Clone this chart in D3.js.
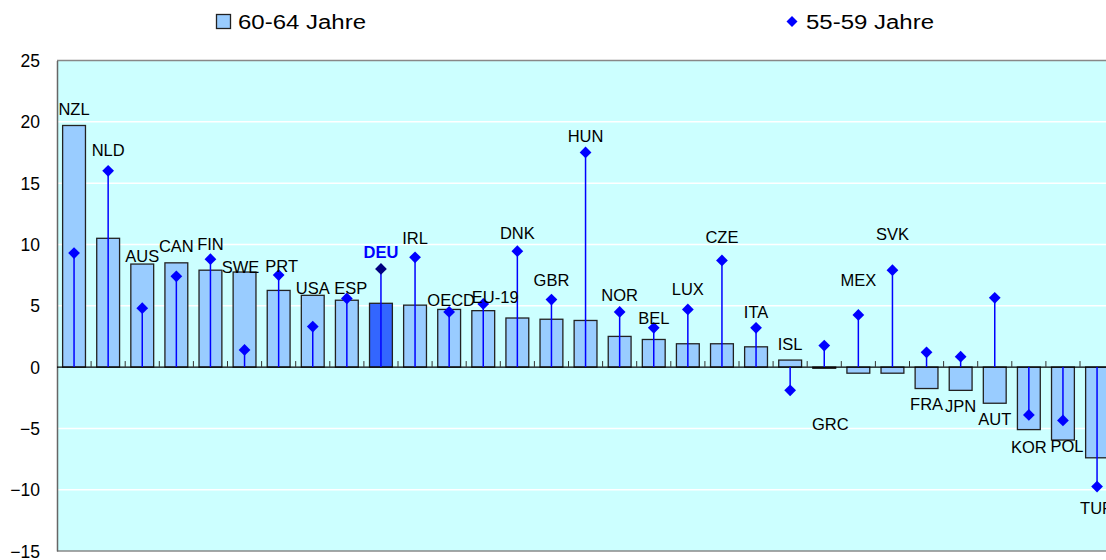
<!DOCTYPE html>
<html lang="de">
<head>
<meta charset="utf-8">
<title>60-64 / 55-59 Jahre</title>
<script src="https://cdn.jsdelivr.net/npm/d3@7"></script>
<style>
  body { margin: 0; background: #fff; }
  text { font-family: Arial, "Liberation Sans", sans-serif; fill: #000; }
  .yaxis text { font-size: 17.5px; }
  .lbl { font-size: 16.5px; }
</style>
</head>
<body>
<script>
// categories (left to right)
var countries = ["NZL","NLD","AUS","CAN","FIN","SWE","PRT","USA","ESP","DEU","IRL","OECD","EU-19",
  "DNK","GBR","HUN","NOR","BEL","LUX","CZE","ITA","ISL","GRC","MEX","SVK","FRA","JPN","AUT","KOR","POL","TUR"];

// bars: 60-64 Jahre
var age6064 = [19.7,10.5,8.4,8.5,7.9,7.75,6.25,5.85,5.45,5.2,5.05,4.7,4.6,
  4.0,3.9,3.8,2.5,2.25,1.9,1.9,1.65,0.57,-0.1,-0.5,-0.5,-1.75,-1.9,-2.95,-5.1,-5.95,-7.4];

// diamonds: 55-59 Jahre
var age5559 = [9.3,16.0,4.8,7.4,8.8,1.4,7.5,3.3,5.6,8.0,8.95,4.5,5.15,
  9.45,5.5,17.5,4.5,3.2,4.7,8.7,3.2,-1.9,1.75,4.25,7.9,1.2,0.85,5.65,-3.9,-4.35,-9.75];

// value at which each country label sits
var labelAt = [21.0,17.7,9.05,9.85,10.0,8.15,8.25,6.45,6.45,9.4,10.5,5.45,5.7,
  10.9,7.1,18.85,5.85,4.0,6.35,10.6,4.5,1.9,-4.65,7.1,10.85,-3.0,-3.2,-4.25,-6.5,-6.45,-11.5];

var yTicks = [-15,-10,-5,0,5,10,15,20,25];
var legendNames = ["60-64 Jahre", "55-59 Jahre"];
var highlight = "DEU";

var w = 1106, h = 560;
var padLeft = 57, padTop = 60.5, padBottom = 551;
var step = 34.1;

var svg = d3.select("body").append("svg")
  .attr("width", w).attr("height", h);

var x = d3.scaleBand()
  .domain(countries)
  .range([padLeft, padLeft + countries.length * step])
  .paddingInner(0.33)
  .paddingOuter(0.165);

var y = d3.scaleLinear()
  .domain([-15, 25])
  .range([padBottom, padTop]);

// plot background
svg.append("rect")
  .attr("x", padLeft).attr("y", y(25))
  .attr("width", w - padLeft + 20).attr("height", y(-15) - y(25))
  .attr("fill", "#ccffff");

// gridlines
svg.selectAll("line.grid")
  .data(yTicks.filter(function(d) { return d != 0 && d != 25 && d != -15; }))
  .enter().append("line")
  .attr("class", "grid")
  .attr("x1", padLeft).attr("x2", w)
  .attr("y1", function(d) { return y(d); })
  .attr("y2", function(d) { return y(d); })
  .attr("stroke", "#fff").attr("stroke-width", 1.5);

// frame top / bottom
[25, -15].forEach(function(v) {
  svg.append("line")
    .attr("x1", padLeft).attr("x2", w)
    .attr("y1", y(v)).attr("y2", y(v))
    .attr("stroke", "#888").attr("stroke-width", 1.5);
});

// y axis
var yAxis = d3.axisLeft(y).tickValues(yTicks).tickSize(0).tickPadding(17);
var ga = svg.append("g")
  .attr("class", "yaxis")
  .attr("transform", "translate(" + padLeft + ",0)")
  .call(yAxis);
ga.select(".domain").attr("stroke", "#666").attr("stroke-width", 1.5);
ga.selectAll("text").attr("dy", "0.35em");

// bars
svg.selectAll("rect.bar")
  .data(countries)
  .enter().append("rect")
  .attr("class", "bar")
  .attr("x", function(d) { return x(d); })
  .attr("width", x.bandwidth())
  .attr("y", function(d, i) { return y(Math.max(0, age6064[i])); })
  .attr("height", function(d, i) { return Math.abs(y(age6064[i]) - y(0)); })
  .attr("fill", function(d) { return d == highlight ? "#3366ff" : "#99ccff"; })
  .attr("stroke", "#222")
  .attr("stroke-width", 1.3);

// zero line with category ticks
svg.append("line")
  .attr("x1", padLeft).attr("x2", w)
  .attr("y1", y(0)).attr("y2", y(0))
  .attr("stroke", "#000").attr("stroke-width", 1.3);

svg.selectAll("line.ctick")
  .data(countries.slice(1))
  .enter().append("line")
  .attr("class", "ctick")
  .attr("x1", function(d) { return x(d) - x.step() * x.paddingInner() / 2; })
  .attr("x2", function(d) { return x(d) - x.step() * x.paddingInner() / 2; })
  .attr("y1", y(0) - 6).attr("y2", y(0))
  .attr("stroke", "#333").attr("stroke-width", 1);

// stems
svg.selectAll("line.stem")
  .data(countries)
  .enter().append("line")
  .attr("class", "stem")
  .attr("x1", function(d) { return x(d) + x.bandwidth() / 2; })
  .attr("x2", function(d) { return x(d) + x.bandwidth() / 2; })
  .attr("y1", y(0))
  .attr("y2", function(d, i) { return y(age5559[i]); })
  .attr("stroke", "#0000ff").attr("stroke-width", 1.5);

// diamonds
var diamond = d3.symbol().type(d3.symbolDiamond2).size(88);
svg.selectAll("path.dia")
  .data(countries)
  .enter().append("path")
  .attr("class", "dia")
  .attr("d", diamond)
  .attr("transform", function(d, i) {
    return "translate(" + (x(d) + x.bandwidth() / 2) + "," + y(age5559[i]) + ")";
  })
  .attr("fill", function(d) { return d == highlight ? "#000080" : "#0000ff"; });

// country labels
var nudge = { "SWE": -4, "PRT": 3, "ESP": 4, "EU-19": 12, "OECD": 2, "GRC": 6, "POL": 4 };
svg.selectAll("text.lbl")
  .data(countries)
  .enter().append("text")
  .attr("class", "lbl")
  .attr("x", function(d) { return x(d) + x.bandwidth() / 2 + (nudge[d] || 0); })
  .attr("y", function(d, i) { return y(labelAt[i]); })
  .attr("dy", "0.35em")
  .attr("text-anchor", "middle")
  .style("fill", function(d) { return d == highlight ? "#0000ff" : "#000"; })
  .style("font-weight", function(d) { return d == highlight ? "bold" : "normal"; })
  .text(function(d) { return d; });

// legend
var lg = svg.append("g");
lg.append("rect")
  .attr("x", 216.5).attr("y", 14.5).attr("width", 14).attr("height", 14)
  .attr("fill", "#99ccff").attr("stroke", "#222").attr("stroke-width", 1.3);
lg.append("text")
  .attr("x", 238).attr("y", 29)
  .attr("textLength", 128).attr("lengthAdjust", "spacingAndGlyphs")
  .style("font-size", "20px")
  .text(legendNames[0]);
lg.append("path")
  .attr("d", d3.symbol().type(d3.symbolDiamond2).size(78))
  .attr("transform", "translate(792,21.5)")
  .attr("fill", "#0000ff");
lg.append("text")
  .attr("x", 806).attr("y", 29)
  .attr("textLength", 128).attr("lengthAdjust", "spacingAndGlyphs")
  .style("font-size", "20px")
  .text(legendNames[1]);
</script>
</body>
</html>
